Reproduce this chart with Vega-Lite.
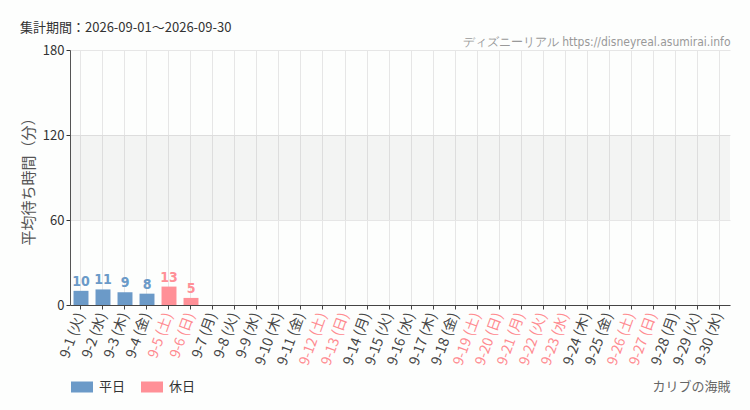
{
  "$schema": "https://vega.github.io/schema/vega-lite/v6.json",
  "width": 660,
  "height": 255,
  "autosize": "none",
  "padding": {"left": 70, "top": 50, "right": 20, "bottom": 105},
  "background": "#fdfefd",
  "title": {
    "text": "集計期間：2026-09-01～2026-09-30",
    "anchor": "start",
    "frame": "group",
    "dx": -50,
    "offset": 0,
    "font": "Noto Sans CJK JP",
    "fontSize": 13,
    "fontWeight": "normal",
    "color": "#333333"
  },
  "data": {
    "values": [
      {"day": "9-1 (火)", "wait": 10, "type": "平日"},
      {"day": "9-2 (水)", "wait": 11, "type": "平日"},
      {"day": "9-3 (木)", "wait": 9, "type": "平日"},
      {"day": "9-4 (金)", "wait": 8, "type": "平日"},
      {"day": "9-5 (土)", "wait": 13, "type": "休日"},
      {"day": "9-6 (日)", "wait": 5, "type": "休日"},
      {"day": "9-7 (月)", "wait": null, "type": "平日"},
      {"day": "9-8 (火)", "wait": null, "type": "平日"},
      {"day": "9-9 (水)", "wait": null, "type": "平日"},
      {"day": "9-10 (木)", "wait": null, "type": "平日"},
      {"day": "9-11 (金)", "wait": null, "type": "平日"},
      {"day": "9-12 (土)", "wait": null, "type": "休日"},
      {"day": "9-13 (日)", "wait": null, "type": "休日"},
      {"day": "9-14 (月)", "wait": null, "type": "平日"},
      {"day": "9-15 (火)", "wait": null, "type": "平日"},
      {"day": "9-16 (水)", "wait": null, "type": "平日"},
      {"day": "9-17 (木)", "wait": null, "type": "平日"},
      {"day": "9-18 (金)", "wait": null, "type": "平日"},
      {"day": "9-19 (土)", "wait": null, "type": "休日"},
      {"day": "9-20 (日)", "wait": null, "type": "休日"},
      {"day": "9-21 (月)", "wait": null, "type": "休日"},
      {"day": "9-22 (火)", "wait": null, "type": "休日"},
      {"day": "9-23 (水)", "wait": null, "type": "休日"},
      {"day": "9-24 (木)", "wait": null, "type": "平日"},
      {"day": "9-25 (金)", "wait": null, "type": "平日"},
      {"day": "9-26 (土)", "wait": null, "type": "休日"},
      {"day": "9-27 (日)", "wait": null, "type": "休日"},
      {"day": "9-28 (月)", "wait": null, "type": "平日"},
      {"day": "9-29 (火)", "wait": null, "type": "平日"},
      {"day": "9-30 (水)", "wait": null, "type": "平日"}
    ]
  },
  "resolve": {"axis": {"x": "independent"}},
  "layer": [
    {
      "data": {"values": [{"zone": "middle"}]},
      "mark": {"type": "rect", "fill": "#000000", "fillOpacity": 0.04, "strokeWidth": 0},
      "encoding": {
        "y": {"datum": 60, "type": "quantitative"},
        "y2": {"datum": 120}
      }
    },
    {
      "mark": {"type": "bar"},
      "encoding": {
        "x": {
          "field": "day",
          "type": "nominal",
          "sort": null,
          "scale": {
            "domain": ["9-1 (火)", "9-2 (水)", "9-3 (木)", "9-4 (金)", "9-5 (土)", "9-6 (日)", "9-7 (月)", "9-8 (火)", "9-9 (水)", "9-10 (木)", "9-11 (金)", "9-12 (土)", "9-13 (日)", "9-14 (月)", "9-15 (火)", "9-16 (水)", "9-17 (木)", "9-18 (金)", "9-19 (土)", "9-20 (日)", "9-21 (月)", "9-22 (火)", "9-23 (水)", "9-24 (木)", "9-25 (金)", "9-26 (土)", "9-27 (日)", "9-28 (月)", "9-29 (火)", "9-30 (水)"],
            "paddingInner": 0.32,
            "paddingOuter": 0.16
          },
          "axis": {
            "orient": "bottom",
            "title": "カリブの海賊",
            "titleAnchor": "end",
            "titleFont": "Noto Sans CJK JP",
            "titleFontSize": 13,
            "titleFontWeight": "normal",
            "titleColor": "#666666",
            "titlePadding": 14,
            "labelAngle": -70,
            "labelFont": "Noto Sans CJK JP",
            "labelFontSize": 14,
            "labelPadding": 4,
            "labelColor": {
              "condition": {
                "test": "indexof(['9-5 (土)','9-6 (日)','9-12 (土)','9-13 (日)','9-19 (土)','9-20 (日)','9-21 (月)','9-22 (火)','9-23 (水)','9-26 (土)','9-27 (日)'], datum.value) >= 0",
                "value": "#ff8a90"
              },
              "value": "#444444"
            },
            "grid": true,
            "bandPosition": 0.5,
            "domainColor": "#444444",
            "tickColor": "#444444",
            "tickSize": 4
          }
        },
        "y": {
          "field": "wait",
          "type": "quantitative",
          "scale": {"domain": [0, 180], "nice": false},
          "axis": {
            "values": [0, 60, 120, 180],
            "title": "平均待ち時間（分）",
            "titleFont": "Noto Sans CJK JP",
            "titleFontSize": 15,
            "titleFontWeight": "normal",
            "titleColor": "#555555",
            "titlePadding": 6,
            "labelFont": "Noto Sans CJK JP",
            "labelFontSize": 13,
            "labelColor": "#333333",
            "domainColor": "#555555",
            "tickColor": "#333333",
            "tickSize": 4,
            "grid": true
          }
        },
        "color": {
          "field": "type",
          "type": "nominal",
          "scale": {"domain": ["平日", "休日"], "range": ["#6b9ac8", "#ff9097"]},
          "legend": {
            "title": null,
            "orient": "none",
            "direction": "horizontal",
            "legendX": 0,
            "legendY": 325,
            "symbolType": "M-1,-0.5H1V0.5H-1Z",
            "symbolSize": 484,
            "symbolOpacity": 1,
            "labelFont": "Noto Sans CJK JP",
            "labelFontSize": 13,
            "labelColor": "#333333",
            "labelOffset": 5,
            "columnPadding": 14
          }
        }
      }
    },
    {
      "mark": {"type": "text", "dy": -9, "font": "DejaVu Sans Condensed, Liberation Sans Narrow, Roboto", "fontSize": 14, "fontWeight": "bold"},
      "transform": [{"filter": "datum.wait != null"}],
      "encoding": {
        "x": {
          "field": "day",
          "type": "nominal",
          "sort": null,
          "axis": {
            "orient": "top",
            "title": "ディズニーリアル https://disneyreal.asumirai.info",
            "titleAnchor": "end",
            "titleFont": "DejaVu Sans Condensed, Liberation Sans Narrow, Roboto",
            "titleFontSize": 12,
            "titleFontWeight": "normal",
            "titleColor": "#999999",
            "titlePadding": 2,
            "labels": false,
            "ticks": false,
            "domain": false,
            "grid": false
          }
        },
        "y": {"field": "wait", "type": "quantitative"},
        "text": {"field": "wait", "type": "quantitative"},
        "color": {"field": "type", "type": "nominal", "legend": null}
      }
    }
  ],
  "config": {
    "view": {"stroke": null},
    "axis": {"gridColor": "#e6e6e6", "labelFont": "Noto Sans CJK JP"},
    "font": "Noto Sans CJK JP"
  }
}
